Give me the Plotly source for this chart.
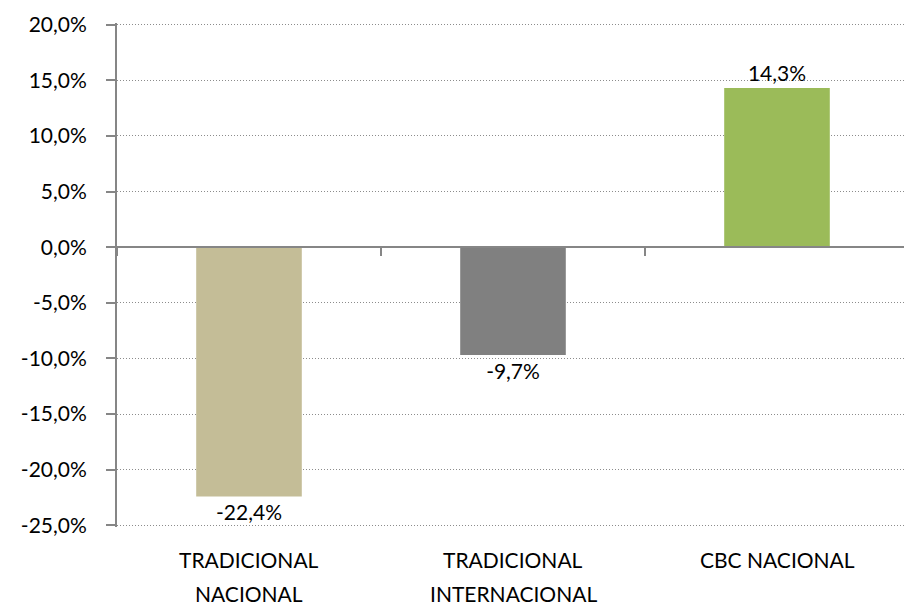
import plotly.graph_objects as go

categories = ["TRADICIONAL NACIONAL", "TRADICIONAL INTERNACIONAL", "CBC NACIONAL"]
label_lines = [["TRADICIONAL", "NACIONAL"], ["TRADICIONAL", "INTERNACIONAL"], ["CBC NACIONAL"]]
values = [-22.4, -9.7, 14.3]
colors = ["#C4BD97", "#808080", "#9BBB59"]

y_ticks = [-25, -20, -15, -10, -5, 0, 5, 10, 15, 20]
y_ticktext = ["-25,0%", "-20,0%", "-15,0%", "-10,0%", "-5,0%", "0,0%", "5,0%", "10,0%", "15,0%", "20,0%"]

# small pad so the edge ticks and gridlines at -25 and 20 are kept
y_min, y_max = -25.15, 20.15
font_name = "Lato"
axis_gray = "#868686"

fig = go.Figure()
fig.add_trace(go.Bar(
    x=categories,
    y=values,
    marker=dict(color=colors, line=dict(width=0)),
    width=0.4,
    texttemplate="%{y:.1f}%",
    textposition="outside",
    textfont=dict(size=21, color="#000000", family=font_name),
    cliponaxis=False,
    showlegend=False,
))

# axis with boundary ticks drawn at the zero line
fig.add_trace(go.Scatter(x=categories, y=[None] * len(categories), xaxis="x2",
                         showlegend=False, hoverinfo="skip"))

# two-line category labels below the plot
for cat, lines in zip(categories, label_lines):
    for i, line in enumerate(lines):
        fig.add_annotation(x=cat, y=0, xref="x", yref="paper", text=line,
                           showarrow=False, yanchor="top", yshift=-18 - 34 * i,
                           font=dict(size=21, color="#000000", family=font_name))

zero_pos = (0 - y_min) / (y_max - y_min)

# page body adds an 8px offset, so the figure is 8px smaller than the window
fig.update_layout(
    width=904, height=598,
    margin=dict(l=109, r=3, t=10, b=79),
    plot_bgcolor="white", paper_bgcolor="white",
    separators=",.",
    font=dict(family=font_name, size=21, color="#000000"),
    bargap=0.6,
    xaxis=dict(showticklabels=False, showline=False, showgrid=False, ticks="",
               zeroline=False, fixedrange=True),
    xaxis2=dict(overlaying="x", anchor="free", position=zero_pos, side="bottom",
                matches="x", showticklabels=False, showline=True, linecolor=axis_gray,
                linewidth=2, ticks="outside", tickson="boundaries", ticklen=8,
                tickcolor=axis_gray, tickwidth=2, showgrid=False, zeroline=False),
    yaxis=dict(range=[y_min, y_max], tickvals=y_ticks, ticktext=y_ticktext,
               showline=True, linecolor=axis_gray, linewidth=2,
               ticks="outside", ticklen=9, tickcolor=axis_gray, tickwidth=2,
               showgrid=True, gridcolor="#8C8C8C", griddash="1px,2px", gridwidth=1,
               zeroline=False, ticklabelstandoff=15, ticklabeloverflow="allow",
               tickfont=dict(size=21, family=font_name, color="#000000")),
)

fig.write_html("out.html")
